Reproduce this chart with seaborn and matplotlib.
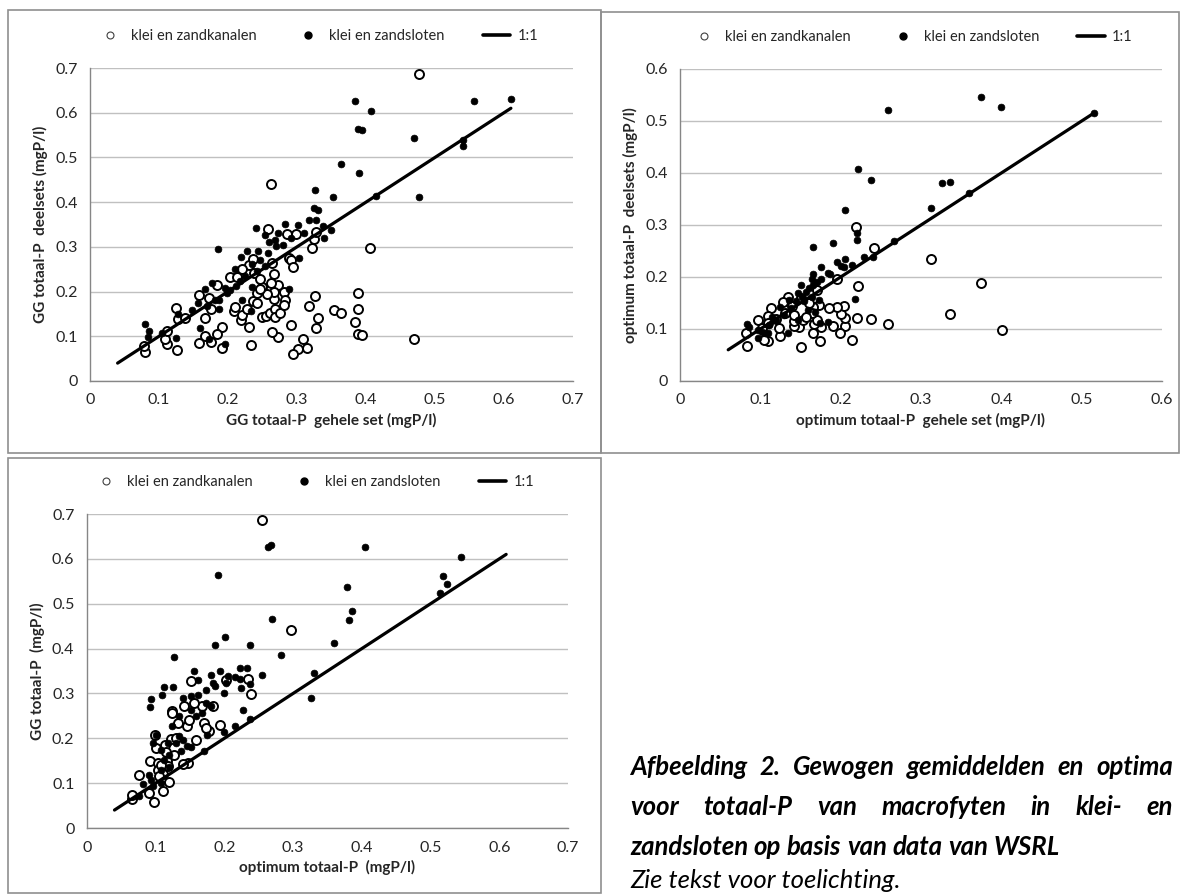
import matplotlib
matplotlib.use("Agg")
import matplotlib.pyplot as plt
import seaborn as sns
from matplotlib.lines import Line2D
from matplotlib.patches import Rectangle

# Data (mgP/l)
# Panel 1: GG totaal-P gehele set (x) vs deelsets (y)
gg_kanalen_x = [0.477, 0.263, 0.406, 0.470, 0.389, 0.389, 0.384, 0.389, 0.394, 0.353, 0.364, 0.330, 0.328, 0.326,
                0.318, 0.309, 0.315, 0.302, 0.294, 0.292, 0.273, 0.264, 0.234, 0.231, 0.192, 0.191, 0.184, 0.176,
                0.166, 0.158, 0.167, 0.126, 0.111, 0.108, 0.080, 0.078, 0.111, 0.124, 0.127, 0.138, 0.158, 0.173,
                0.176, 0.184, 0.203, 0.208, 0.210, 0.219, 0.221, 0.228, 0.236, 0.242, 0.249, 0.255, 0.261, 0.268,
                0.268, 0.276, 0.281, 0.282, 0.281, 0.266, 0.273, 0.263, 0.267, 0.249, 0.256, 0.242, 0.247, 0.231,
                0.236, 0.221, 0.213, 0.258, 0.298, 0.286, 0.288, 0.292, 0.294, 0.267, 0.264, 0.322, 0.325, 0.328,
                0.237, 0.247]
gg_kanalen_y = [0.687, 0.441, 0.298, 0.095, 0.197, 0.162, 0.131, 0.105, 0.102, 0.159, 0.152, 0.141, 0.119, 0.191,
                0.168, 0.093, 0.073, 0.072, 0.060, 0.125, 0.099, 0.109, 0.080, 0.120, 0.073, 0.121, 0.105, 0.088,
                0.101, 0.086, 0.141, 0.070, 0.083, 0.093, 0.064, 0.079, 0.112, 0.163, 0.139, 0.141, 0.192, 0.185,
                0.162, 0.215, 0.232, 0.156, 0.165, 0.137, 0.147, 0.161, 0.179, 0.174, 0.143, 0.145, 0.152, 0.162,
                0.144, 0.151, 0.200, 0.182, 0.169, 0.184, 0.214, 0.219, 0.198, 0.211, 0.194, 0.197, 0.206, 0.259,
                0.272, 0.251, 0.232, 0.339, 0.328, 0.329, 0.274, 0.271, 0.255, 0.239, 0.265, 0.298, 0.317, 0.334,
                0.242, 0.227]
gg_sloten_x = [0.610, 0.556, 0.384, 0.407, 0.389, 0.394, 0.470, 0.541, 0.541, 0.364, 0.390, 0.326, 0.352, 0.477,
               0.415, 0.325, 0.330, 0.317, 0.328, 0.337, 0.349, 0.339, 0.302, 0.283, 0.240, 0.310, 0.303, 0.288,
               0.273, 0.253, 0.185, 0.219, 0.228, 0.244, 0.210, 0.259, 0.268, 0.279, 0.292, 0.235, 0.218, 0.221,
               0.234, 0.235, 0.196, 0.177, 0.167, 0.187, 0.187, 0.156, 0.159, 0.173, 0.196, 0.124, 0.128, 0.080,
               0.086, 0.084, 0.104, 0.203, 0.225, 0.247, 0.258, 0.269, 0.253, 0.242, 0.212, 0.198, 0.181, 0.170,
               0.148]
gg_sloten_y = [0.630, 0.627, 0.627, 0.604, 0.563, 0.561, 0.544, 0.538, 0.526, 0.485, 0.466, 0.428, 0.411, 0.411,
               0.414, 0.387, 0.382, 0.359, 0.359, 0.346, 0.337, 0.319, 0.350, 0.351, 0.342, 0.331, 0.275, 0.206,
               0.331, 0.327, 0.296, 0.277, 0.290, 0.290, 0.250, 0.310, 0.316, 0.305, 0.320, 0.262, 0.224, 0.182,
               0.156, 0.210, 0.208, 0.219, 0.206, 0.182, 0.162, 0.174, 0.118, 0.094, 0.082, 0.096, 0.150, 0.128,
               0.112, 0.098, 0.107, 0.204, 0.234, 0.271, 0.286, 0.301, 0.257, 0.245, 0.212, 0.197, 0.182, 0.167,
               0.159]
gg_line = [0.04, 0.61]

# Panel 2: optimum totaal-P gehele set (x) vs deelsets (y)
opt_kanalen_x = [0.401, 0.375, 0.336, 0.313, 0.259, 0.238, 0.220, 0.221, 0.219, 0.241, 0.214, 0.206, 0.206, 0.199,
                 0.200, 0.204, 0.195, 0.185, 0.191, 0.195, 0.175, 0.174, 0.166, 0.167, 0.170, 0.173, 0.171, 0.166,
                 0.164, 0.150, 0.148, 0.142, 0.142, 0.153, 0.157, 0.142, 0.125, 0.123, 0.109, 0.105, 0.083, 0.082,
                 0.097, 0.113, 0.110, 0.134, 0.128, 0.131, 0.102, 0.109, 0.120, 0.140, 0.160, 0.150]
opt_kanalen_y = [0.098, 0.188, 0.128, 0.235, 0.110, 0.120, 0.122, 0.183, 0.297, 0.255, 0.078, 0.106, 0.121, 0.093,
                 0.128, 0.144, 0.143, 0.140, 0.106, 0.196, 0.104, 0.076, 0.093, 0.110, 0.117, 0.146, 0.175, 0.143,
                 0.130, 0.066, 0.104, 0.106, 0.116, 0.117, 0.124, 0.127, 0.087, 0.101, 0.076, 0.079, 0.067, 0.092,
                 0.117, 0.140, 0.125, 0.162, 0.151, 0.130, 0.101, 0.111, 0.120, 0.145, 0.150, 0.160]
opt_sloten_x = [0.375, 0.400, 0.259, 0.515, 0.221, 0.238, 0.326, 0.336, 0.360, 0.313, 0.206, 0.220, 0.220, 0.190,
                0.166, 0.267, 0.229, 0.240, 0.206, 0.195, 0.200, 0.204, 0.214, 0.175, 0.184, 0.187, 0.166, 0.218,
                0.184, 0.174, 0.150, 0.134, 0.109, 0.083, 0.086, 0.097, 0.102, 0.111, 0.120, 0.129, 0.138, 0.145,
                0.152, 0.157, 0.161, 0.166, 0.170, 0.175, 0.147, 0.154, 0.164, 0.173, 0.159, 0.125, 0.136, 0.115,
                0.097, 0.106, 0.147, 0.168, 0.164]
opt_sloten_y = [0.546, 0.527, 0.521, 0.515, 0.408, 0.387, 0.381, 0.383, 0.362, 0.332, 0.328, 0.285, 0.272, 0.266,
                0.257, 0.269, 0.239, 0.239, 0.235, 0.229, 0.222, 0.220, 0.224, 0.220, 0.207, 0.205, 0.206, 0.158,
                0.114, 0.112, 0.185, 0.093, 0.093, 0.109, 0.104, 0.082, 0.095, 0.108, 0.117, 0.127, 0.140, 0.153,
                0.162, 0.172, 0.178, 0.185, 0.191, 0.197, 0.169, 0.153, 0.162, 0.156, 0.137, 0.143, 0.156, 0.124,
                0.098, 0.092, 0.117, 0.133, 0.196]
opt_line = [0.06, 0.515]

# Panel 3: optimum totaal-P (x) vs GG totaal-P (y)
mix_kanalen_x = [0.254, 0.297, 0.238, 0.235, 0.203, 0.193, 0.177, 0.159, 0.183, 0.152, 0.167, 0.170, 0.173, 0.141,
                 0.123, 0.132, 0.145, 0.147, 0.140, 0.127, 0.113, 0.116, 0.100, 0.091, 0.104, 0.103, 0.118, 0.111,
                 0.120, 0.110, 0.097, 0.090, 0.076, 0.065, 0.066, 0.099, 0.122, 0.105, 0.123, 0.156, 0.130, 0.148,
                 0.115, 0.108]
mix_kanalen_y = [0.686, 0.441, 0.298, 0.332, 0.330, 0.230, 0.216, 0.196, 0.273, 0.328, 0.271, 0.234, 0.223, 0.271,
                 0.260, 0.234, 0.227, 0.145, 0.143, 0.163, 0.186, 0.150, 0.178, 0.150, 0.145, 0.130, 0.139, 0.121,
                 0.103, 0.082, 0.059, 0.078, 0.119, 0.065, 0.073, 0.207, 0.198, 0.115, 0.256, 0.279, 0.200, 0.240,
                 0.170, 0.140]
mix_sloten_x = [0.405, 0.264, 0.268, 0.544, 0.191, 0.518, 0.524, 0.513, 0.379, 0.385, 0.381, 0.269, 0.201, 0.187,
                0.237, 0.360, 0.126, 0.283, 0.331, 0.326, 0.255, 0.223, 0.233, 0.216, 0.222, 0.237, 0.224, 0.227,
                0.237, 0.216, 0.199, 0.193, 0.180, 0.156, 0.125, 0.112, 0.109, 0.093, 0.091, 0.152, 0.170, 0.175,
                0.200, 0.203, 0.187, 0.140, 0.151, 0.162, 0.173, 0.162, 0.151, 0.159, 0.167, 0.134, 0.123, 0.134,
                0.118, 0.129, 0.140, 0.145, 0.107, 0.101, 0.096, 0.112, 0.120, 0.107, 0.090, 0.093, 0.082, 0.076,
                0.096, 0.107, 0.120, 0.137, 0.173, 0.181, 0.184, 0.205]
mix_sloten_y = [0.626, 0.626, 0.630, 0.604, 0.563, 0.561, 0.544, 0.525, 0.537, 0.484, 0.464, 0.467, 0.426, 0.409,
                0.409, 0.412, 0.382, 0.386, 0.346, 0.289, 0.342, 0.357, 0.357, 0.336, 0.332, 0.320, 0.311, 0.262,
                0.243, 0.227, 0.213, 0.349, 0.340, 0.351, 0.315, 0.314, 0.296, 0.288, 0.269, 0.180, 0.172, 0.208,
                0.302, 0.323, 0.316, 0.290, 0.294, 0.297, 0.308, 0.331, 0.264, 0.249, 0.256, 0.249, 0.227, 0.204,
                0.189, 0.189, 0.197, 0.182, 0.175, 0.208, 0.189, 0.152, 0.137, 0.130, 0.119, 0.108, 0.097, 0.071,
                0.093, 0.100, 0.163, 0.171, 0.279, 0.271, 0.323, 0.338]
mix_line = [0.04, 0.61]

legend_labels = ["klei en zandkanalen", "klei en zandsloten", "1:1"]

sns.set_theme(style="white")
plt.rcParams["font.family"] = ["Lato", "DejaVu Sans"]

W, H = 1180, 894
fig = plt.figure(figsize=(W / 100, H / 100), dpi=100)
fig.patch.set_facecolor("white")

GRID = "#c0c0c0"
AXIS = "#868686"
TXT = "#262626"


def px_box(x0, y0, x1, y1):
    # pixel box (top-left origin) -> figure fraction rect
    return [x0 / W, (H - y1) / H, (x1 - x0) / W, (y1 - y0) / H]


def draw_panel(ax, kx, ky, sx, sy, line, lim, xlabel, ylabel, leg_x):
    sns.scatterplot(x=kx, y=ky, ax=ax, marker="o", s=42, color="white",
                    edgecolor="black", linewidth=1.4, legend=False, zorder=3)
    sns.scatterplot(x=sx, y=sy, ax=ax, marker="o", s=24, color="black",
                    edgecolor="black", linewidth=0.5, legend=False, zorder=4)
    sns.lineplot(x=line, y=line, ax=ax, color="black", linewidth=2.3, zorder=5)
    ax.set_xlim(0, lim)
    ax.set_ylim(0, lim)
    ticks = [round(i * 0.1, 1) for i in range(int(round(lim * 10)) + 1)]
    ax.set_xticks(ticks)
    ax.set_yticks(ticks)
    ax.set_xticklabels(["0" if t == 0 else f"{t:.1f}" for t in ticks])
    ax.set_yticklabels(["0" if t == 0 else f"{t:.1f}" for t in ticks])
    ax.yaxis.grid(True, color=GRID, linewidth=1.0)
    ax.xaxis.grid(False)
    ax.set_axisbelow(True)
    for side in ["top", "right"]:
        ax.spines[side].set_visible(False)
    for side in ["left", "bottom"]:
        ax.spines[side].set_color(AXIS)
        ax.spines[side].set_linewidth(1.0)
    ax.tick_params(axis="both", which="major", direction="out", length=4,
                   width=1.0, color=AXIS, labelsize=11.5, labelcolor=TXT, pad=5)
    ax.set_xlabel(xlabel, fontsize=11, fontweight="bold", color=TXT, labelpad=4)
    ax.set_ylabel(ylabel, fontsize=11, fontweight="bold", color=TXT, labelpad=5)
    handles = [
        Line2D([], [], marker="o", ls="none", mfc="white", mec="#404040", ms=5, mew=0.8),
        Line2D([], [], marker="o", ls="none", mfc="black", mec="black", ms=5),
        Line2D([], [], color="black", lw=2.6),
    ]
    ax.legend(handles, legend_labels, loc="center", bbox_to_anchor=(leg_x, 1.102),
              ncol=3, frameon=False, fontsize=10.5, handlelength=1.9,
              handletextpad=0.5, columnspacing=2.6, labelcolor=TXT)


ax1 = fig.add_axes(px_box(90, 68, 573, 381))
draw_panel(ax1, gg_kanalen_x, gg_kanalen_y, gg_sloten_x, gg_sloten_y, gg_line, 0.7,
           "GG totaal-P  gehele set (mgP/l)", "GG totaal-P  deelsets (mgP/l)", 0.47)

ax2 = fig.add_axes(px_box(680, 69, 1162, 381))
draw_panel(ax2, opt_kanalen_x, opt_kanalen_y, opt_sloten_x, opt_sloten_y, opt_line, 0.6,
           "optimum totaal-P  gehele set (mgP/l)", "optimum totaal-P  deelsets (mgP/l)", 0.48)

ax3 = fig.add_axes(px_box(87, 514, 568, 828))
draw_panel(ax3, mix_kanalen_x, mix_kanalen_y, mix_sloten_x, mix_sloten_y, mix_line, 0.7,
           "optimum totaal-P  (mgP/l)", "GG totaal-P  (mgP/l)", 0.47)

# panel frames
for box in [(8, 10, 601, 453), (601, 12, 1179, 453), (8, 458, 601, 893)]:
    fig.add_artist(Rectangle((box[0] / W, (H - box[3]) / H), (box[2] - box[0]) / W,
                             (box[3] - box[1]) / H, transform=fig.transFigure,
                             fill=False, edgecolor="#8f8f8f", linewidth=1.2))

# caption, justified like the document text
CAP_SIZE = 18.5
caption_lines = [
    "Afbeelding 2. Gewogen gemiddelden en optima",
    "voor totaal-P van macrofyten in klei- en",
    "zandsloten op basis van data van WSRL",
]
cap_left, cap_right = 630, 1173
cap_y = [767, 807, 847]
renderer = fig.canvas.get_renderer()


def text_width(s, **kw):
    t = fig.text(0, 0, s, alpha=0, **kw)
    w = t.get_window_extent(renderer=renderer).width
    t.remove()
    return w


bold_it = dict(fontsize=CAP_SIZE, fontweight="bold", fontstyle="italic")
normal_gap = text_width("a a", **bold_it) - text_width("aa", **bold_it)
for i, (line, y) in enumerate(zip(caption_lines, cap_y)):
    words = line.split(" ")
    texts = [fig.text(0, 1 - y / H, w, color="black", va="center", ha="left", **bold_it)
             for w in words]
    widths = [t.get_window_extent(renderer=renderer).width for t in texts]
    if i < len(caption_lines) - 1:
        gap = (cap_right - cap_left - sum(widths)) / (len(words) - 1)
    else:
        gap = normal_gap
    x = cap_left
    for t, w in zip(texts, widths):
        t.set_x(x / W)
        x += w + gap
fig.text(cap_left / W, 1 - 880 / H, "Zie tekst voor toelichting.", fontsize=CAP_SIZE,
         fontstyle="italic", color="black", va="center", ha="left")

fig.savefig("out.png", dpi=100)
